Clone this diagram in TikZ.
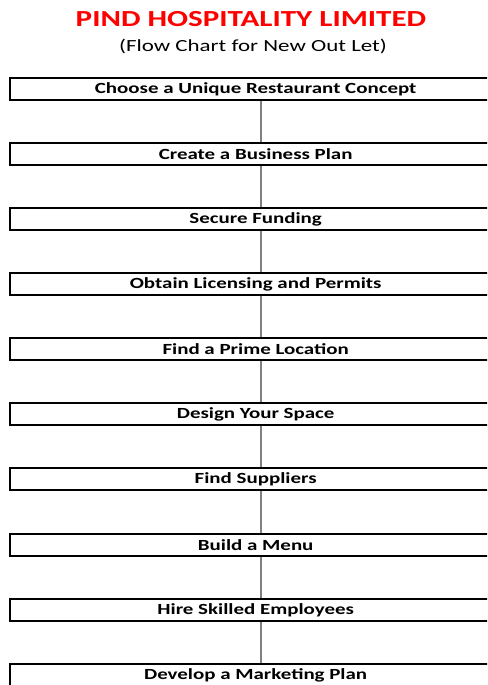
\documentclass[tikz,border=0pt]{standalone}
\usepackage{fontspec}
\setmainfont{Carlito}[FakeStretch=1.35]
\usepackage{tikz}
\usetikzlibrary{positioning,calc}
\definecolor{titlered}{RGB}{255,0,0}
\definecolor{linkgray}{RGB}{128,128,128}
\tikzset{
stepbox/.style={draw=black,line width=1.3pt,fill=white,rectangle,anchor=west,
minimum width=490pt,minimum height=22pt,inner sep=0pt,
font=\fontsize{15.5}{17}\selectfont\bfseries},
link/.style={draw=linkgray,line width=1.8pt}
}

\begin{document}
\begin{tikzpicture}[x=1pt,y=1pt]
\useasboundingbox (0,0) rectangle (487,-685);
\clip (0,0) rectangle (487,-685);
\node[text=titlered,font=\fontsize{23}{25}\selectfont\bfseries] (title) at (251,-19) {PIND HOSPITALITY LIMITED};
\node[font=\fontsize{17}{19}\selectfont] (sub) at (253,-46) {(Flow Chart for New Out Let)};
\node[stepbox] (s1) at (10,-89) {Choose a Unique Restaurant Concept};
\node[stepbox] (s2) at (10,-154) {Create a Business Plan};
\node[stepbox] (s3) at (10,-219) {Secure Funding};
\node[stepbox] (s4) at (10,-284) {Obtain Licensing and Permits};
\node[stepbox] (s5) at (10,-349) {Find a Prime Location};
\node[stepbox] (s6) at (10,-414) {Design Your Space};
\node[stepbox] (s7) at (10,-479) {Find Suppliers};
\node[stepbox] (s8) at (10,-545) {Build a Menu};
\node[stepbox] (s9) at (10,-610) {Hire Skilled Employees};
\node[stepbox] (s10) at (10,-675) {Develop a Marketing Plan};
% thick left edges
\draw[line width=2.6pt] (s1.north west) -- (s1.south west) (s2.north west) -- (s2.south west)
(s3.north west) -- (s3.south west) (s4.north west) -- (s4.south west)
(s5.north west) -- (s5.south west) (s6.north west) -- (s6.south west)
(s7.north west) -- (s7.south west) (s8.north west) -- (s8.south west)
(s9.north west) -- (s9.south west) (s10.north west) -- (s10.south west);
\path[link]
([xshift=5pt]s1.south) -- ([xshift=5pt]s2.north)
([xshift=5pt]s2.south) -- ([xshift=5pt]s3.north)
([xshift=5pt]s3.south) -- ([xshift=5pt]s4.north)
([xshift=5pt]s4.south) -- ([xshift=5pt]s5.north)
([xshift=5pt]s5.south) -- ([xshift=5pt]s6.north)
([xshift=5pt]s6.south) -- ([xshift=5pt]s7.north)
([xshift=5pt]s7.south) -- ([xshift=5pt]s8.north)
([xshift=5pt]s8.south) -- ([xshift=5pt]s9.north)
([xshift=5pt]s9.south) -- ([xshift=5pt]s10.north);
\end{tikzpicture}
\end{document}
